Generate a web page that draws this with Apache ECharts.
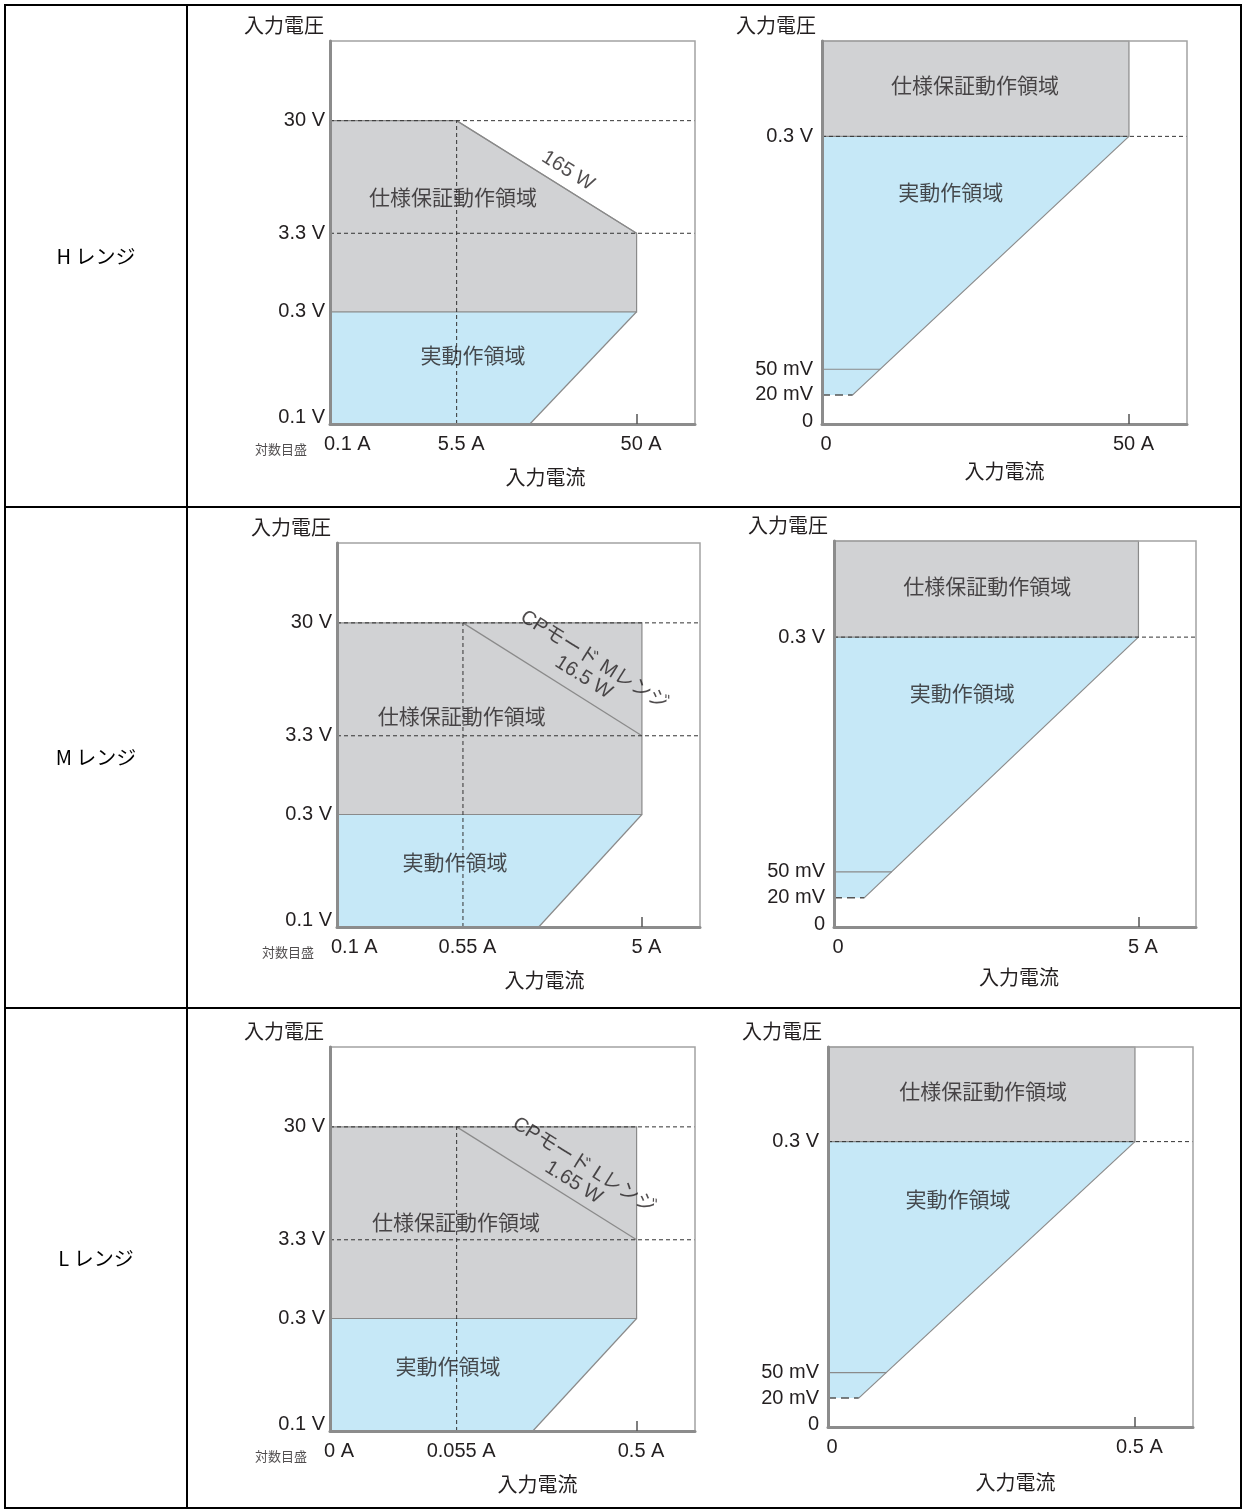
<!DOCTYPE html>
<html lang="ja">
<head>
<meta charset="utf-8">
<title>動作領域</title>
<script src="https://cdn.jsdelivr.net/npm/echarts@6/dist/echarts.min.js"></script>
<style>
  html, body { margin: 0; padding: 0; background: #fff; }
  #chart { width: 1246px; height: 1511px; }
</style>
</head>
<body>
<div id="chart"></div>
<script>
// ---- values ----
const rangeNames = ['H レンジ', 'M レンジ', 'L レンジ'];

// left column: log scale (対数目盛)
const logVoltTicks = [0.1, 0.3, 3.3, 30];
const logVoltLabels = ['0.1 V', '0.3 V', '3.3 V', '30 V'];
const logCurrTicks = [[0.1, 5.5, 50], [0.1, 0.55, 5], [0.01, 0.055, 0.5]];
const logCurrLabels = [['0.1 A', '5.5 A', '50 A'], ['0.1 A', '0.55 A', '5 A'], ['0 A', '0.055 A', '0.5 A']];
const specAreaLog = [
  [[0.1, 0.3], [0.1, 30], [5.5, 30], [50, 3.3], [50, 0.3]],
  [[0.1, 0.3], [0.1, 30], [5, 30], [5, 3.3], [5, 0.3]],
  [[0.01, 0.3], [0.01, 30], [0.5, 30], [0.5, 3.3], [0.5, 0.3]]
];
const actualAreaLog = [
  [[0.1, 0.1], [0.1, 0.3], [50, 0.3], [13.5, 0.1]],
  [[0.1, 0.1], [0.1, 0.3], [5, 0.3], [1.4, 0.1]],
  [[0.01, 0.1], [0.01, 0.3], [0.5, 0.3], [0.14, 0.1]]
];
const cpLines = [[[5.5, 30], [50, 3.3]], [[0.55, 30], [5, 3.3]], [[0.055, 30], [0.5, 3.3]]];
const cpLabels = ['165 W', 'CPモード Mレンジ\n16.5 W', 'CPモード Lレンジ\n1.65 W'];

// right column: linear scale
const linVoltTicks = [0, 0.02, 0.05, 0.3];
const linVoltLabels = ['0', '20 mV', '50 mV', '0.3 V'];
const linCurrTicks = [[0, 50], [0, 5], [0, 0.5]];
const linCurrLabels = [['0', '50 A'], ['0', '5 A'], ['0', '0.5 A']];
const specAreaLin = [
  [[0, 0.3], [0, Infinity], [50, Infinity], [50, 0.3]],
  [[0, 0.3], [0, Infinity], [5, Infinity], [5, 0.3]],
  [[0, 0.3], [0, Infinity], [0.5, Infinity], [0.5, 0.3]]
];
const actualAreaLin = [
  [[0, 0.02], [0, 0.3], [50, 0.3], [5, 0.02]],
  [[0, 0.02], [0, 0.3], [5, 0.3], [0.5, 0.02]],
  [[0, 0.02], [0, 0.3], [0.5, 0.3], [0.05, 0.02]]
];
const line50mV = [[[0, 0.05], [9.5, 0.05]], [[0, 0.05], [0.95, 0.05]], [[0, 0.05], [0.095, 0.05]]];

// ---- layout ----
// the figure is schematic: axis ticks sit at these fractions of the plot box
const logXUnits = [0, 0.347, 0.84];
const logYUnits = [0, 0.293, 0.498, 0.792];
const linXUnits = [0, 0.841];
const linYUnits = [0, 0.076, 0.143, 0.751];

const gridBoxes = [
  { left: 330, top: 41, width: 365, height: 383 },
  { left: 822, top: 41, width: 365, height: 383 },
  { left: 337, top: 543, width: 363, height: 384 },
  { left: 834, top: 541, width: 362, height: 386 },
  { left: 330, top: 1047, width: 365, height: 384 },
  { left: 828, top: 1047, width: 365, height: 380 }
];
const xNameShift = [33, 0, 26, 4, 25, 5];
const xNameGap = [53, 47, 53, 50, 53, 55];
const specLabelPos = [[0.337, 0.593], [0.419, 0.886], [0.344, 0.549], [0.423, 0.884], [0.345, 0.544], [0.425, 0.884]];
const actualLabelPos = [[0.392, 0.18], [0.353, 0.606], [0.325, 0.169], [0.354, 0.606], [0.323, 0.169], [0.356, 0.6]];
const cpLabelPos = [[0.652, 0.661], [0.694, 0.672], [0.682, 0.669]];

const FONT = '"Liberation Sans", "Noto Sans CJK JP", sans-serif';
const JFONT = '"Noto Sans CJK JP", sans-serif';
const INK = '#231f20';
const AXIS = '#8c8c8c';
const GRAY = '#d1d2d4';
const BLUE = '#c6e8f7';
const EDGE = '#8a8a8a';
const DASH = { color: '#333', width: 1, type: [4, 3] };

// piecewise scale: real value -> fraction of the plot box
function makeScale(values, units, log) {
  const f = log ? Math.log10 : (v => v);
  return v => {
    if (v === Infinity) return 1;
    const t = f(v);
    let i = 0;
    while (i < values.length - 2 && t > f(values[i + 1])) i++;
    const a = f(values[i]), b = f(values[i + 1]);
    return units[i] + (t - a) / (b - a) * (units[i + 1] - units[i]);
  };
}

const ctx = document.createElement('canvas').getContext('2d');
function textWidth(s, size) {
  ctx.font = size + 'px ' + FONT;
  return ctx.measureText(s).width;
}

function labelLookup(units, labels, minTag, restTag) {
  return v => {
    const i = units.findIndex(u => Math.abs(u - v) < 1e-6);
    if (i < 0) return '';
    if (i === 0 && minTag) return '{' + minTag + '|' + labels[i] + '}';
    return restTag ? '{' + restTag + '|' + labels[i] + '}' : labels[i];
  };
}

const option = {
  animation: false,
  backgroundColor: '#fff',
  grid: [], xAxis: [], yAxis: [], series: [], graphic: []
};

function addPolygon(gi, pts, sx, sy, style) {
  const coords = pts.map(p => [sx(p[0]), sy(p[1])]);
  option.series.push({
    type: 'custom', xAxisIndex: gi, yAxisIndex: gi, silent: true, z: 1,
    data: [[0, 0]],
    renderItem: (params, api) => ({
      type: 'polygon',
      shape: { points: coords.map(c => api.coord(c)) },
      style: Object.assign({}, style)
    })
  });
}

function addLine(gi, pts, sx, sy, lineStyle) {
  option.series.push({
    type: 'line', xAxisIndex: gi, yAxisIndex: gi, silent: true, symbol: 'none', z: 3,
    data: pts.map(p => [sx(p[0]), sy(p[1])]),
    lineStyle: lineStyle
  });
}

function addTexts(gi, items) {
  option.series.push({
    type: 'scatter', xAxisIndex: gi, yAxisIndex: gi, silent: true, z: 6,
    symbolSize: 1, itemStyle: { color: 'rgba(0,0,0,0)' },
    data: items.map(it => ({
      value: it.at,
      label: Object.assign({
        show: true, position: 'inside', color: INK, fontFamily: JFONT, fontSize: 21,
        formatter: it.text
      }, it.style || {})
    }))
  });
}

function addChart(gi, sx, sy, xTicks, xLabels, yTicks, yLabels, isLog) {
  const box = gridBoxes[gi];
  option.grid.push(Object.assign({
    show: true, borderColor: '#a3a3a3', borderWidth: 1.5, backgroundColor: 'transparent', z: 4
  }, box));

  const xu = xTicks.map(sx);
  const yu = yTicks.map(sy);
  const minPad = isLog ? Math.max(0, textWidth(xLabels[0], 20) - 12) : 8;
  const txt = { color: INK, fontFamily: FONT, fontSize: 20 };
  option.xAxis.push({
    type: 'value', gridIndex: gi, min: 0, max: 1, z: 5,
    axisLine: { show: true, onZero: false, lineStyle: { color: AXIS, width: 3 } },
    axisTick: { show: true, inside: true, length: 10, customValues: [xu[xu.length - 1]],
      lineStyle: { color: '#555', width: 1.5 } },
    axisLabel: {
      show: true, customValues: xu, margin: 10, color: INK, fontFamily: FONT, fontSize: 20,
      formatter: labelLookup(xu, xLabels, 'm', 'r'),
      rich: {
        m: Object.assign({ padding: [0, 0, 0, minPad] }, txt),
        r: Object.assign({ padding: [0, 0, 0, 9] }, txt)
      }
    },
    splitLine: { show: false },
    name: '入力電流', nameLocation: 'middle', nameGap: xNameGap[gi],
    nameTextStyle: { color: INK, fontFamily: JFONT, fontSize: 20, verticalAlign: 'middle',
      padding: [0, 0, 0, xNameShift[gi] * 2] }
  });
  option.yAxis.push({
    type: 'value', gridIndex: gi, min: 0, max: 1, z: 5,
    axisLine: { show: true, onZero: false, lineStyle: { color: AXIS, width: 3 } },
    axisTick: { show: false },
    axisLabel: {
      show: true, customValues: yu, margin: isLog ? 5 : 9, color: INK, fontFamily: FONT, fontSize: 20,
      formatter: labelLookup(yu, yLabels, 'b', null),
      rich: { b: Object.assign({ padding: [0, 0, isLog ? 13 : 6, 0] }, txt) }
    },
    splitLine: { show: false },
    name: '入力電圧', nameLocation: 'end', nameGap: 16,
    nameTextStyle: { color: INK, fontFamily: JFONT, fontSize: 20, align: 'right',
      verticalAlign: 'middle', padding: [0, 6, 0, 0] }
  });
}

rangeNames.forEach((name, r) => {
  // log-log chart
  const gL = r * 2;
  const sxL = makeScale(logCurrTicks[r], logXUnits, true);
  const syL = makeScale(logVoltTicks, logYUnits, true);
  addChart(gL, sxL, syL, logCurrTicks[r], logCurrLabels[r], logVoltTicks, logVoltLabels, true);
  const spec = specAreaLog[r], act = actualAreaLog[r];
  addPolygon(gL, act, sxL, syL, { fill: BLUE });
  addPolygon(gL, spec, sxL, syL, { fill: GRAY, stroke: EDGE, lineWidth: 1.2 });
  addLine(gL, [act[3], act[2]], sxL, syL, { color: EDGE, width: 1.2 });
  addLine(gL, cpLines[r], sxL, syL, { color: EDGE, width: 1.2 });
  const vTop = cpLines[r][0][1], vMid = cpLines[r][1][1];
  addLine(gL, [[spec[0][0], vTop], [Infinity, vTop]], sxL, syL, DASH);
  addLine(gL, [[spec[0][0], vMid], [Infinity, vMid]], sxL, syL, DASH);
  addLine(gL, [[cpLines[r][0][0], act[0][1]], cpLines[r][0]], sxL, syL, DASH);
  addTexts(gL, [
    { at: specLabelPos[gL], text: '仕様保証動作領域' },
    { at: actualLabelPos[gL], text: '実動作領域' },
    { at: cpLabelPos[r], text: cpLabels[r],
      style: { rotate: -32, fontFamily: FONT, fontSize: 20, lineHeight: 20, align: 'center' } },
    { at: [0, 0], text: '対数目盛', style: { fontSize: 13, offset: [-49, 25] } }
  ]);

  // linear chart
  const gR = r * 2 + 1;
  const sxR = makeScale(linCurrTicks[r], linXUnits, false);
  const syR = makeScale(linVoltTicks, linYUnits, false);
  addChart(gR, sxR, syR, linCurrTicks[r], linCurrLabels[r], linVoltTicks, linVoltLabels, false);
  const specR = specAreaLin[r], actR = actualAreaLin[r];
  addPolygon(gR, actR, sxR, syR, { fill: BLUE });
  addPolygon(gR, specR, sxR, syR, { fill: GRAY, stroke: EDGE, lineWidth: 1.2 });
  addLine(gR, [actR[3], actR[2]], sxR, syR, { color: EDGE, width: 1.2 });
  addLine(gR, line50mV[r], sxR, syR, { color: EDGE, width: 1.2 });
  addLine(gR, [actR[0], actR[3]], sxR, syR, { color: '#555', width: 1.5, type: [8, 5] });
  addLine(gR, [[0, actR[1][1]], [Infinity, actR[1][1]]], sxR, syR, DASH);
  addTexts(gR, [
    { at: specLabelPos[gR], text: '仕様保証動作領域' },
    { at: actualLabelPos[gR], text: '実動作領域' }
  ]);
});

// table frame and row titles
const rowEdges = [5, 507, 1008, 1508];
option.graphic.push({
  type: 'rect', shape: { x: 5, y: 5, width: 1236, height: 1503 },
  style: { fill: 'none', stroke: '#000', lineWidth: 2 }, silent: true
});
option.graphic.push({
  type: 'line', shape: { x1: 187, y1: 5, x2: 187, y2: 1508 },
  style: { stroke: '#000', lineWidth: 2 }, silent: true
});
[507, 1008].forEach(y => option.graphic.push({
  type: 'line', shape: { x1: 5, y1: y, x2: 1241, y2: y },
  style: { stroke: '#000', lineWidth: 2 }, silent: true
}));
rangeNames.forEach((name, r) => option.graphic.push({
  type: 'text', x: 96, y: (rowEdges[r] + rowEdges[r + 1]) / 2,
  style: { text: name, font: '20px "Noto Sans CJK JP"', fill: '#000',
    textAlign: 'center', textVerticalAlign: 'middle', align: 'center', verticalAlign: 'middle' },
  silent: true
}));

const chart = echarts.init(document.getElementById('chart'));
chart.setOption(option);
</script>
</body>
</html>
